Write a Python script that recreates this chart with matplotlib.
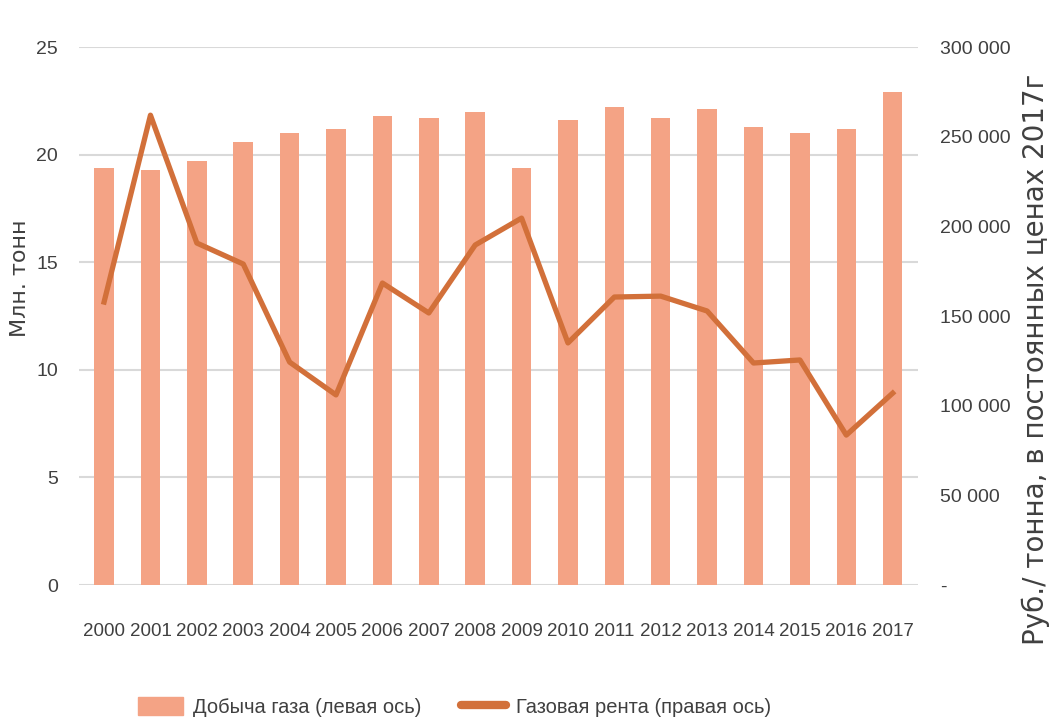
import matplotlib
matplotlib.use('Agg')
import matplotlib.pyplot as plt
from matplotlib.ticker import FixedLocator, FuncFormatter

years = [str(y) for y in range(2000, 2018)]
# добыча газа, млн. тонн (левая ось)
gas_output = [19.4, 19.3, 19.7, 20.6, 21.0, 21.2, 21.8, 21.7, 22.0,
              19.4, 21.6, 22.2, 21.7, 22.1, 21.3, 21.0, 21.2, 22.9]
# газовая рента, руб./тонна (правая ось)
gas_rent = [157800, 262000, 190700, 179000, 124300, 106000, 168400, 151700, 189600,
            204600, 135000, 160600, 161100, 152800, 123800, 125500, 83600, 107000]

bar_color = '#F4A385'
line_color = '#D2703A'
narrow = ['Liberation Sans', 'DejaVu Sans']

fig = plt.figure(figsize=(10.55, 7.27), dpi=100)
ax = fig.add_axes([0.0749, 0.1953, 0.795, 0.74])
ax2 = ax.twinx()

x = list(range(len(years)))
ax.bar(x, gas_output, width=0.42, color=bar_color, zorder=2)
ax2.plot(x, gas_rent, color=line_color, lw=3.8, solid_joinstyle='round', zorder=3)

ax.set_ylim(0, 25)
ax.set_yticks([0, 5, 10, 15, 20, 25])
ax2.set_ylim(0, 300000)
ax2.yaxis.set_major_locator(FixedLocator(range(0, 300001, 50000)))
ax2.yaxis.set_major_formatter(FuncFormatter(
    lambda v, p: '-' if v == 0 else f'{int(v):,}'.replace(',', ' ')))
ax.set_xlim(-0.54, len(years) - 0.46)
ax.set_xticks(x)
ax.set_xticklabels(years)

ax.grid(axis='y', color='#D9D9D9', lw=1.5, zorder=0)
ax.set_axisbelow(True)
for a in (ax, ax2):
    for s in a.spines.values():
        s.set_visible(False)
    a.tick_params(length=0, colors='#404040')
ax.tick_params(axis='y', pad=15)
ax.tick_params(axis='x', pad=27)
ax2.tick_params(axis='y', pad=16)

for lab in ax.get_xticklabels():
    lab.set_family(narrow)
    lab.set_fontsize(13.5)
for lab in ax.get_yticklabels() + ax2.get_yticklabels():
    lab.set_family(narrow)
    lab.set_fontsize(14)

ax.set_ylabel('Млн. тонн', fontsize=16, color='#404040')
ax.yaxis.set_label_coords(-0.058, 0.57)
ax2.set_ylabel('Руб./ тонна, в постоянных ценах 2017г', fontsize=20,
               color='#404040')
ax2.yaxis.set_label_coords(1.124, 0.42)

h1 = plt.Rectangle((0, 0), 1, 1, color=bar_color)
h2, = ax2.plot([], [], color=line_color, lw=6, solid_capstyle='round')
fig.legend([h1, h2], ['Добыча газа (левая ось)', 'Газовая рента (правая ось)'],
           loc='center', bbox_to_anchor=(0.431, 0.028), ncol=2, frameon=False,
           prop={'family': narrow, 'size': 14.5}, handlelength=2.2, handleheight=1.05,
           columnspacing=2.0, handletextpad=0.5, labelcolor='#404040')

fig.savefig('out.png', dpi=100)
